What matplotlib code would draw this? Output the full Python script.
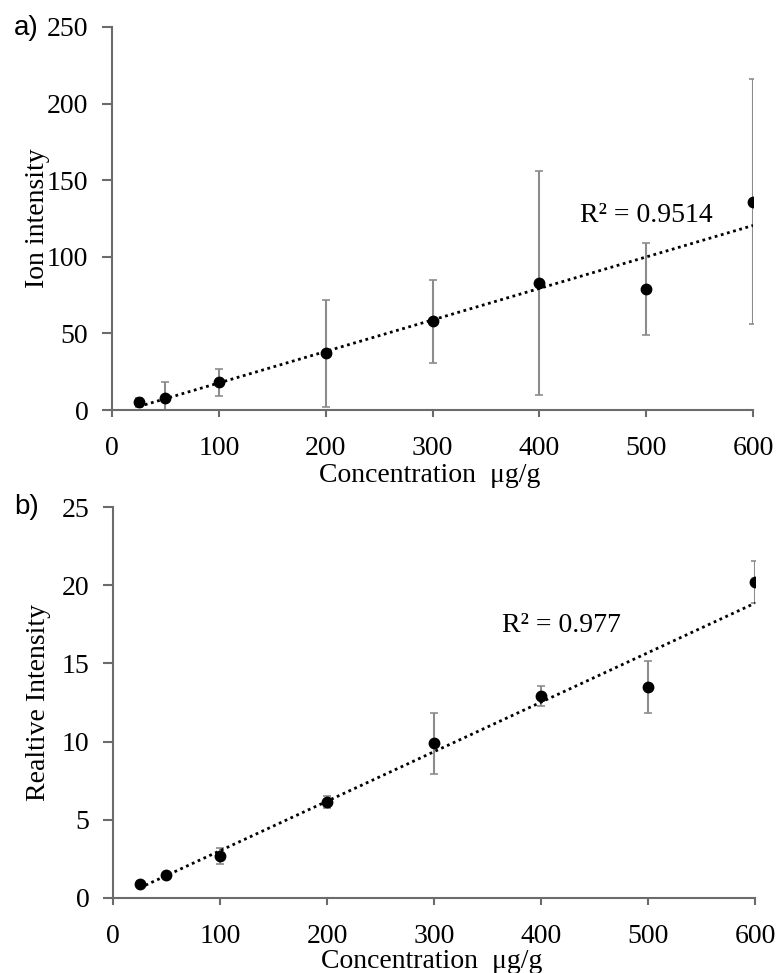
import numpy as np
import matplotlib
matplotlib.use("Agg")
import matplotlib.pyplot as plt

# data
conc = [25, 50, 100, 200, 300, 400, 500, 600]
ion = [5, 8, 18, 37, 58, 83, 79, 136]
ion_err = [3, 10, 9, 35, 27, 73, 30, 80]
rel = [0.9, 1.45, 2.7, 6.15, 9.9, 12.9, 13.5, 20.2]
rel_err = [0.2, 0.15, 0.5, 0.4, 1.95, 0.65, 1.65, 1.35]

xticks = [0, 100, 200, 300, 400, 500, 600]
yticks_a = [0, 50, 100, 150, 200, 250]
yticks_b = [0, 5, 10, 15, 20, 25]

plt.rcParams['font.family'] = ['Liberation Serif', 'DejaVu Serif']
spine_col = '#6b6b6b'
fs = 20

fig = plt.figure(figsize=(7.76, 9.73), dpi=100)
ax1 = fig.add_axes([0.1443, 0.5786, 0.8261, 0.3937])
ax2 = fig.add_axes([0.1456, 0.0771, 0.8273, 0.4018])


def panel(ax, y, err, yticks, ylabel, r2, r2xy, xlab_y):
    ax.errorbar(conc, y, yerr=err, fmt='none', ecolor='#8c8c8c',
                elinewidth=1.5, capsize=2.8, capthick=1.2, zorder=2)
    k, b = np.polyfit(conc, y, 1)
    xs = np.array([conc[0], conc[-1]])
    ax.plot(xs, k * xs + b, color='black', ls=(0, (1, 1.3)), lw=2, zorder=3)
    ax.plot(conc, y, 'o', color='black', ms=7.5, zorder=4)
    ax.set_xlim(0, 600)
    ax.set_ylim(yticks[0], yticks[-1])
    ax.set_xticks(xticks)
    ax.set_yticks(yticks)
    for s in ['top', 'right']:
        ax.spines[s].set_visible(False)
    for s in ['left', 'bottom']:
        ax.spines[s].set_color(spine_col)
        ax.spines[s].set_linewidth(1.5)
        ax.spines[s].set_clip_on(False)
    ax.tick_params(axis='x', direction='out', length=5, width=1.5,
                   color=spine_col, labelsize=fs, pad=14)
    ax.tick_params(axis='y', direction='out', length=7, width=1.5,
                   color=spine_col, labelsize=fs, pad=10)
    ax.set_xlabel('Concentration  μg/g', fontsize=fs)
    ax.xaxis.set_label_coords(0.496, xlab_y)
    ax.set_ylabel(ylabel, fontsize=fs)
    ax.yaxis.set_label_coords(-0.096, 0.5)
    ax.text(r2xy[0], r2xy[1], r2, fontsize=fs, va='center', ha='left')


panel(ax1, ion, ion_err, yticks_a, 'Ion intensity', 'R² = 0.9514',
      (438, 127), -0.138)
panel(ax2, rel, rel_err, yticks_b, 'Realtive Intensity', 'R² = 0.977',
      (364, 17.45), -0.13)

fig.text(14 / 776, 1 - 28 / 973, 'a)', family='Liberation Sans', fontsize=20,
         va='center', ha='left')
fig.text(14 / 776, 1 - 507 / 973, 'b)', family='Liberation Sans', fontsize=20,
         va='center', ha='left')

fig.savefig('out.png', dpi=100)
